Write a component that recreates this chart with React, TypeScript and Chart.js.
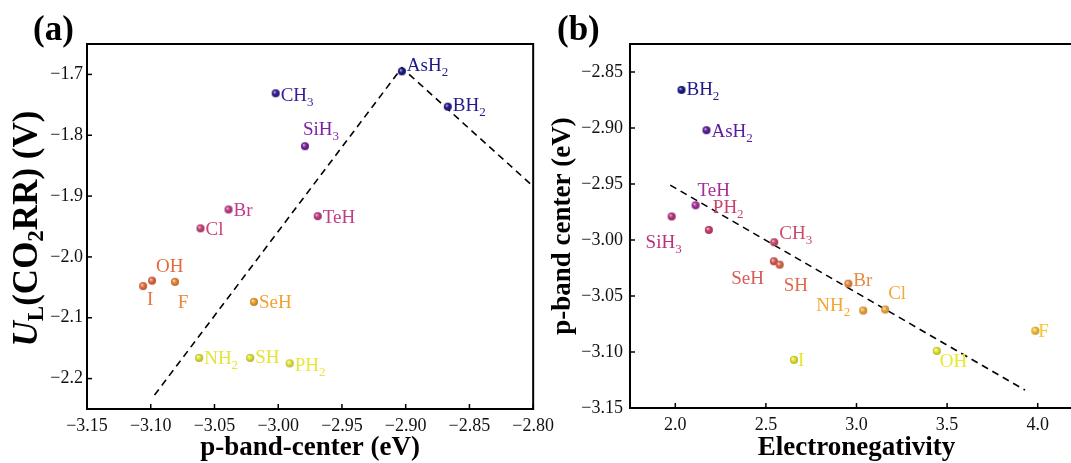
import React, { useEffect, useRef } from "react";
import { Chart, registerables } from "chart.js";
Chart.register(...registerables);

const SERIF = "'Liberation Serif', 'Times New Roman', Times, serif";

// ---------------- Panel (a): U_L vs p-band-center ----------------
const aLabels = ["AsH_2", "BH_2", "CH_3", "SiH_3", "Br", "TeH", "Cl", "I", "OH", "F", "SeH", "NH_2", "SH", "PH_2"];
const aPBand = [-2.903, -2.867, -3.002, -2.979, -3.039, -2.969, -3.061, -3.106, -3.099, -3.081, -3.019, -3.062, -3.022, -2.991];
const aUL = [-1.695, -1.753, -1.731, -1.818, -1.922, -1.933, -1.953, -2.048, -2.039, -2.041, -2.074, -2.166, -2.166, -2.175];
const aColors = ["#1d1a86", "#231a8c", "#3a1a96", "#7a22a2", "#c13c8a", "#c23c86", "#c9407a", "#e8723e", "#e4693f", "#ea8638", "#f0a233", "#e4e436", "#e4e436", "#e8e83a"];
const aLabelPos: [number, number, string][] = [
  [5, -7, "l"], [5, -2, "l"], [5, 1, "l"], [-2, -18, "l"], [5, 0, "l"], [5, 0, "l"], [5, 0, "l"],
  [7, 12, "c"], [4, -15, "l"], [8, 20, "c"], [5, 0, "l"], [5, 0, "l"], [5, -1, "l"], [5, 1, "l"],
];
const aFitX = [-3.097, -2.903, -2.8];
const aFitY = [-2.227, -1.689, -1.884];
const aXTicks = [-3.15, -3.1, -3.05, -3.0, -2.95, -2.9, -2.85, -2.8];
const aYTicks = [-1.7, -1.8, -1.9, -2.0, -2.1, -2.2];

// ---------------- Panel (b): p-band center vs electronegativity ----------------
const bLabels = ["BH_2", "AsH_2", "TeH", "SiH_3", "PH_2", "CH_3", "SeH", "SH", "Br", "NH_2", "Cl", "F", "OH", "I"];
const bEN = [2.034, 2.172, 2.112, 1.98, 2.185, 2.546, 2.544, 2.576, 2.955, 3.037, 3.158, 3.987, 3.443, 2.655];
const bPBand = [-2.866, -2.902, -2.969, -2.979, -2.991, -3.002, -3.019, -3.022, -3.039, -3.063, -3.062, -3.081, -3.099, -3.107];
const bColors = ["#1c1a88", "#5b1c9c", "#a42e9c", "#bb3180", "#cc3f6a", "#cc4a6a", "#d85a5a", "#e06a4c", "#ea8a40", "#f2a634", "#f2aa3a", "#f5c42e", "#e8e82e", "#e6e62a"];
const bLabelPos: [number, number, string][] = [
  [5, -1, "l"], [5, 0, "l"], [2, -16, "l"], [10, 25, "r"], [4, -23, "l"], [5, -10, "l"], [-10, 16, "r"],
  [4, 20, "l"], [5, -4, "l"], [-13, -6, "r"], [3, -17, "l"], [3, 0, "l"], [3, 10, "l"], [4, 0, "l"],
];
const bFitX = [1.972, 3.93];
const bFitY = [-2.951, -3.134];
const bXTicks = [2.0, 2.5, 3.0, 3.5, 4.0];
const bYTicks = [-2.85, -2.9, -2.95, -3.0, -3.05, -3.1, -3.15];

// ---------------- helpers ----------------
type Seg = { t: string; font: string; dy: number };

function hexToRgb(h: string) {
  const n = parseInt(h.slice(1), 16);
  return [(n >> 16) & 255, (n >> 8) & 255, n & 255];
}
function mix(c: number[], t: number[], f: number) {
  return c.map((v, i) => Math.round(v + (t[i] - v) * f));
}
function ball(color: string) {
  const s = 10;
  const r = 4;
  const cv = document.createElement("canvas");
  cv.width = s;
  cv.height = s;
  const ctx = cv.getContext("2d")!;
  const rgb = hexToRgb(color);
  const g = ctx.createRadialGradient(s / 2 - 1.4, s / 2 - 1.4, 0.2, s / 2, s / 2, r);
  g.addColorStop(0, `rgb(${mix(rgb, [255, 255, 255], 0.7).join(",")})`);
  g.addColorStop(0.45, `rgb(${rgb.join(",")})`);
  g.addColorStop(1, `rgb(${mix(rgb, [0, 0, 0], 0.25).join(",")})`);
  ctx.fillStyle = g;
  ctx.beginPath();
  ctx.arc(s / 2, s / 2, r, 0, Math.PI * 2);
  ctx.fill();
  return cv;
}
function drawSegs(ctx: CanvasRenderingContext2D, segs: Seg[], x: number, y: number, align: string) {
  let w = 0;
  for (const s of segs) {
    ctx.font = s.font;
    w += ctx.measureText(s.t).width;
  }
  let cx = align === "l" ? x : align === "c" ? x - w / 2 : x - w;
  ctx.textAlign = "left";
  ctx.textBaseline = "alphabetic";
  for (const s of segs) {
    ctx.font = s.font;
    ctx.fillText(s.t, cx, y + s.dy);
    cx += ctx.measureText(s.t).width;
  }
}
function labelSegs(label: string): Seg[] {
  const parts = label.split("_");
  const segs: Seg[] = [{ t: parts[0], font: `19px ${SERIF}`, dy: 0 }];
  for (let i = 1; i < parts.length; i++) {
    segs.push({ t: parts[i][0], font: `13px ${SERIF}`, dy: 5 });
    if (parts[i].length > 1) segs.push({ t: parts[i].slice(1), font: `19px ${SERIF}`, dy: 0 });
  }
  return segs;
}
function fmt(v: number, dec: number) {
  return (v < 0 ? "\u2212" : "") + Math.abs(v).toFixed(dec);
}

type PanelCfg = {
  xs: number[]; ys: number[]; labels: string[]; colors: string[]; pos: [number, number, string][];
  fitX: number[]; fitY: number[];
  xMin: number; xMax: number; yMin: number; yMax: number;
  xTicks: number[]; yTicks: number[]; xDec: number; yDec: number;
  padding: { left: number; top: number; right: number; bottom: number };
  yAxisWidth: number; xAxisHeight: number; yTickPad: number; xTickPad: number;
  titles: (ctx: CanvasRenderingContext2D, a: any) => void;
};

function makeChart(canvas: HTMLCanvasElement, p: PanelCfg) {
  const styles = p.colors.map(ball);
  const overlay = {
    id: "overlay",
    afterDraw(chart: any) {
      const { ctx, chartArea: a, scales } = chart;
      ctx.save();
      const meta = chart.getDatasetMeta(0);
      meta.data.forEach((el: any, i: number) => {
        const [dx, dy, al] = p.pos[i];
        ctx.fillStyle = p.colors[i];
        drawSegs(ctx, labelSegs(p.labels[i]), el.x + dx, el.y + dy + 6.5, al);
      });
      ctx.strokeStyle = "#000";
      ctx.lineWidth = 1.5;
      p.xTicks.forEach((v) => {
        const x = scales.x.getPixelForValue(v);
        ctx.beginPath();
        ctx.moveTo(x, a.bottom);
        ctx.lineTo(x, a.bottom - 5);
        ctx.stroke();
      });
      p.yTicks.forEach((v) => {
        const y = scales.y.getPixelForValue(v);
        ctx.beginPath();
        ctx.moveTo(a.left, y);
        ctx.lineTo(a.left + 5, y);
        ctx.stroke();
      });
      ctx.lineWidth = 2;
      ctx.strokeRect(a.left, a.top, a.right - a.left, a.bottom - a.top);
      ctx.fillStyle = "#000";
      p.titles(ctx, a);
      ctx.restore();
    },
  };
  return new Chart(canvas, {
    type: "scatter",
    data: {
      datasets: [
        {
          data: p.xs.map((x, i) => ({ x, y: p.ys[i] })),
          pointStyle: styles as any,
          pointRadius: 4,
          pointHoverRadius: 4,
          showLine: false,
        },
        {
          data: p.fitX.map((x, i) => ({ x, y: p.fitY[i] })),
          showLine: true,
          borderColor: "#000",
          borderWidth: 1.6,
          borderDash: [7, 5],
          pointRadius: 0,
          fill: false,
          tension: 0,
        },
      ],
    },
    options: {
      responsive: false,
      animation: false,
      devicePixelRatio: 1,
      events: [],
      layout: { padding: p.padding },
      plugins: { legend: { display: false }, tooltip: { enabled: false } },
      scales: {
        x: {
          type: "linear",
          min: p.xMin,
          max: p.xMax,
          afterBuildTicks: (s: any) => {
            s.ticks = p.xTicks.map((v) => ({ value: v }));
          },
          afterFit: (s: any) => {
            s.height = p.xAxisHeight;
          },
          grid: { display: false, drawTicks: false },
          border: { display: false },
          ticks: {
            color: "#111",
            font: { family: SERIF, size: 18 },
            padding: p.xTickPad,
            maxRotation: 0,
            autoSkip: false,
            callback: (v: any) => fmt(Number(v), p.xDec),
          },
        },
        y: {
          type: "linear",
          min: p.yMin,
          max: p.yMax,
          afterBuildTicks: (s: any) => {
            s.ticks = p.yTicks.map((v) => ({ value: v }));
          },
          afterFit: (s: any) => {
            s.width = p.yAxisWidth;
          },
          grid: { display: false, drawTicks: false },
          border: { display: false },
          ticks: {
            color: "#111",
            font: { family: SERIF, size: 18 },
            padding: p.yTickPad,
            autoSkip: false,
            callback: (v: any) => fmt(Number(v), p.yDec),
          },
        },
      },
    },
    plugins: [overlay],
  } as any);
}

export default function App() {
  const leftRef = useRef<HTMLCanvasElement>(null);
  const rightRef = useRef<HTMLCanvasElement>(null);

  useEffect(() => {
    const c1 = makeChart(leftRef.current!, {
      xs: aPBand, ys: aUL, labels: aLabels, colors: aColors, pos: aLabelPos,
      fitX: aFitX, fitY: aFitY,
      xMin: -3.15, xMax: -2.8, yMin: -2.25, yMax: -1.65,
      xTicks: aXTicks, yTicks: aYTicks, xDec: 2, yDec: 1,
      padding: { left: 0, top: 44, right: 18, bottom: 0 },
      yAxisWidth: 87, xAxisHeight: 54, yTickPad: 4, xTickPad: 6,
      titles: (ctx, a) => {
        ctx.font = `bold 35px ${SERIF}`;
        ctx.textAlign = "left";
        ctx.textBaseline = "alphabetic";
        ctx.fillText("(a)", 33, 40);
        ctx.font = `bold 27px ${SERIF}`;
        ctx.textAlign = "center";
        ctx.fillText("p-band-center (eV)", (a.left + a.right) / 2, 455);
        ctx.save();
        ctx.translate(37, (a.top + a.bottom) / 2 + 2);
        ctx.rotate(-Math.PI / 2);
        drawSegs(ctx, [
          { t: "U", font: `italic bold 35px ${SERIF}`, dy: 0 },
          { t: "L", font: `bold 23px ${SERIF}`, dy: 6 },
          { t: "(CO", font: `bold 35px ${SERIF}`, dy: 0 },
          { t: "2", font: `bold 23px ${SERIF}`, dy: 6 },
          { t: "RR) (V)", font: `bold 35px ${SERIF}`, dy: 0 },
        ], 0, 0, "c");
        ctx.restore();
      },
    });
    const c2 = makeChart(rightRef.current!, {
      xs: bEN, ys: bPBand, labels: bLabels, colors: bColors, pos: bLabelPos,
      fitX: bFitX, fitY: bFitY,
      xMin: 1.75, xMax: 4.25, yMin: -3.15, yMax: -2.825,
      xTicks: bXTicks, yTicks: bYTicks, xDec: 1, yDec: 2,
      padding: { left: 0, top: 44, right: 17, bottom: 0 },
      yAxisWidth: 90, xAxisHeight: 55, yTickPad: 7, xTickPad: 6,
      titles: (ctx, a) => {
        ctx.font = `bold 35px ${SERIF}`;
        ctx.textAlign = "left";
        ctx.textBaseline = "alphabetic";
        ctx.fillText("(b)", 17, 40);
        ctx.font = `bold 27px ${SERIF}`;
        ctx.textAlign = "center";
        ctx.fillText("Electronegativity", (a.left + a.right) / 2, 455);
        ctx.save();
        ctx.translate(30, (a.top + a.bottom) / 2);
        ctx.rotate(-Math.PI / 2);
        ctx.textAlign = "center";
        ctx.fillText("p-band center (eV)", 0, 0);
        ctx.restore();
      },
    });
    return () => {
      c1.destroy();
      c2.destroy();
    };
  }, []);

  return (
    <div style={{ position: "absolute", left: 0, top: 0, width: 1071, height: 463, overflow: "hidden", background: "#fff" }}>
      <canvas ref={leftRef} width={560} height={463} style={{ position: "absolute", left: 0, top: 0, width: 560, height: 463 }} />
      <canvas ref={rightRef} width={560} height={463} style={{ position: "absolute", left: 540, top: 0, width: 560, height: 463 }} />
    </div>
  );
}
